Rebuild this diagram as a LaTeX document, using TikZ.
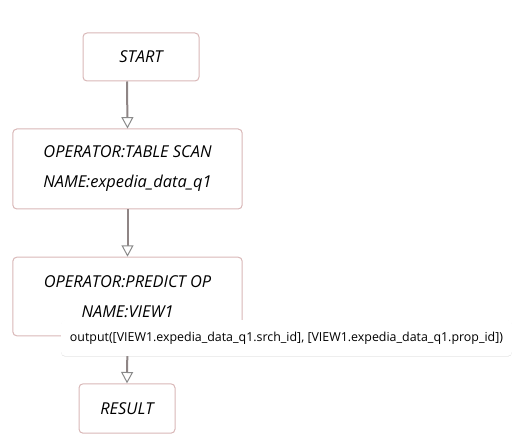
\documentclass[tikz,border=0pt]{standalone}
\usepackage{fontspec}
\setmainfont{Open Sans}
\usetikzlibrary{arrows.meta,shadows}
\definecolor{boxline}{HTML}{D9B8B8}
\definecolor{edgeline}{HTML}{8F8585}
\definecolor{tipline}{HTML}{8A8A8A}
\begin{document}
\begin{tikzpicture}[x=0.75pt,y=-0.75pt,
    opbox/.style={draw=boxline,line width=0.75pt,rounded corners=3pt,fill=white,
      font=\itshape\fontsize{12.3}{22.5}\selectfont,align=center,inner sep=0pt},
    flow/.style={draw=edgeline,line width=1.5pt,
      -{Triangle[open,width=9pt,length=8.5pt,line width=0.75pt,color=tipline,fill=white]}},
    tipbox/.style={fill=white,rounded corners=3pt,inner sep=0pt,
      drop shadow={shadow xshift=0pt,shadow yshift=-0.5pt,opacity=0.12,fill=black},
      font=\fontsize{9.3}{11}\selectfont}]
  \useasboundingbox (0,0) rectangle (520,441);
  \node[opbox,minimum width=87pt,minimum height=36pt] (start) at (141,57) {START};
  \node[opbox,minimum width=172pt,minimum height=60pt] (scan) at (127.5,169)
    {OPERATOR:TABLE SCAN\\NAME:expedia\_data\_q1};
  \node[opbox,minimum width=172pt,minimum height=59pt] (predict) at (127.5,296.5)
    {OPERATOR:PREDICT OP\\NAME:VIEW1};
  \node[opbox,minimum width=72pt,minimum height=37pt] (result) at (127,408.5) {RESULT};
  \draw[flow] ([xshift=-10.5pt]start.south) -- (scan.north);
  \draw[flow] (scan.south) -- (predict.north);
  \draw[flow] (predict.south) -- (result.north);
  % hover tip over the last edge
  \node[tipbox,minimum width=338pt,minimum height=27pt] (tip) at (286.5,338)
    {output([VIEW1.expedia\_data\_q1.srch\_id], [VIEW1.expedia\_data\_q1.prop\_id])};
\end{tikzpicture}
\end{document}
